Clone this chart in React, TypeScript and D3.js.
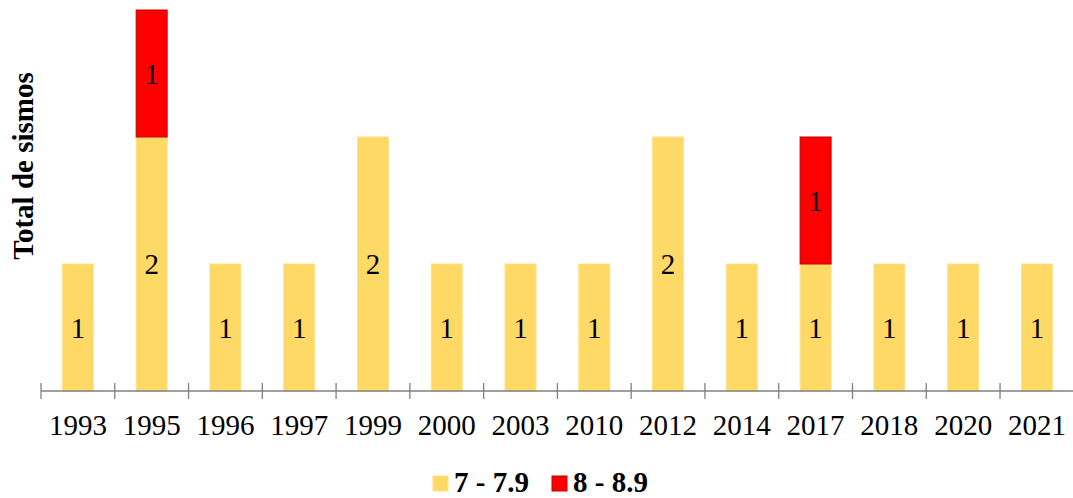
import React from "react";
import * as d3 from "d3";

const years = ["1993","1995","1996","1997","1999","2000","2003","2010","2012","2014","2017","2018","2020","2021"];
const s7 = [1,2,1,1,2,1,1,1,2,1,1,1,1,1];
const s8 = [0,1,0,0,0,0,0,0,0,0,1,0,0,0];
const seriesNames = ["7 - 7.9", "8 - 8.9"];
const fills = ["#FFD966", "#FF0000"];
const strokes = ["#FFE28A", "#C00000"];

export default function App() {
  const W = 1073, H = 498;
  const x0 = 41, x1 = 1073.8, yBase = 391, yTop = 10;
  const x = d3.scaleBand<string>().domain(years).range([x0, x1]).paddingInner(0.58).paddingOuter(0.29);
  const y = d3.scaleLinear().domain([0, 3]).range([yBase, yTop]);
  const step = (x1 - x0) / years.length;
  const font = "'Liberation Serif', 'Times New Roman', serif";
  const rows = years.map((yr, i) => ({ yr, v: [s7[i], s8[i]] }));
  return (
    <div style={{ position: "absolute", left: 0, top: 0 }}>
      <svg width={W} height={H} style={{ display: "block" }}>
        <rect width={W} height={H} fill="#fff" />
        {rows.map((r) => {
          let acc = 0;
          return r.v.map((v, si) => {
            if (!v) return null;
            const yb = y(acc), yt = y(acc + v);
            acc += v;
            const bx = x(r.yr)!;
            return (
              <g key={r.yr + si}>
                <rect x={bx} y={yt} width={x.bandwidth()} height={yb - yt} fill={fills[si]} stroke={strokes[si]} strokeWidth={1} />
                <text x={bx + x.bandwidth() / 2} y={(yt + yb) / 2} dy="0.35em" textAnchor="middle" fontFamily={font} fontSize={29} fill="#000">{v}</text>
              </g>
            );
          });
        })}
        <line x1={x0} x2={x1} y1={yBase} y2={yBase} stroke="#808080" strokeWidth={1.3} />
        {d3.range(years.length + 1).map((k) => (
          <line key={k} x1={x0 + k * step} x2={x0 + k * step} y1={yBase - 8} y2={yBase + 8} stroke="#808080" strokeWidth={1.3} />
        ))}
        {years.map((yr) => (
          <text key={yr} x={x(yr)! + x.bandwidth() / 2} y={435} textAnchor="middle" fontFamily={font} fontSize={29} fill="#000">{yr}</text>
        ))}
        <text transform={`translate(33,166) rotate(-90)`} textAnchor="middle" fontFamily={font} fontSize={29} fontWeight="bold" fill="#000">Total de sismos</text>
        {seriesNames.map((n, i) => {
          const lx = [433, 552][i];
          return (
            <g key={n}>
              <rect x={lx} y={476} width={15} height={15} fill={fills[i]} stroke={strokes[i]} />
              <text x={lx + 21} y={492} fontFamily={font} fontSize={29} fontWeight="bold" fill="#000">{n}</text>
            </g>
          );
        })}
      </svg>
    </div>
  );
}
